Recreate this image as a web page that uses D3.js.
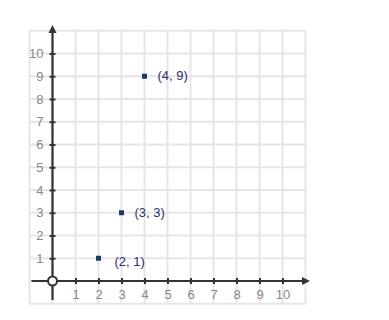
<!DOCTYPE html>
<html><head><meta charset="utf-8">
<script src="https://cdn.jsdelivr.net/npm/d3@7"></script>
<style>body{margin:0;background:#fff}svg{display:block}</style>
</head><body>
<script>
const xTicks = [1,2,3,4,5,6,7,8,9,10];
const yTicks = [1,2,3,4,5,6,7,8,9,10];
const pointsX = [2,3,4];
const pointsY = [1,3,9];
const pointLabels = ["(2, 1)","(3, 3)","(4, 9)"];

const W = 389, H = 320;
const svg = d3.select("body").append("svg").attr("width",W).attr("height",H);
const x = d3.scaleLinear().domain([0,10]).range([52.5,282.5]);
const y = d3.scaleLinear().domain([0,10]).range([281,53.5]);
const gridVals = d3.range(-1,12);
const font = "Arial, Liberation Sans, sans-serif";

const grid = svg.append("g").attr("stroke","#e8e4e8").attr("stroke-width",2);
grid.selectAll("line.v").data(gridVals).join("line").attr("class","v")
  .attr("x1",d=>x(d)).attr("x2",d=>x(d)).attr("y1",y(11)).attr("y2",y(-1));
grid.selectAll("line.h").data(gridVals).join("line").attr("class","h")
  .attr("y1",d=>y(d)).attr("y2",d=>y(d)).attr("x1",x(-1)).attr("x2",x(11));

const ax = d3.axisBottom(x).tickValues(xTicks).tickSize(6).tickFormat(d=>d);
const gx = svg.append("g").attr("transform",`translate(0,${y(0)-3})`).call(ax);
gx.select(".domain").remove();
gx.selectAll(".tick line").attr("stroke","#333").attr("stroke-width",2);
gx.selectAll(".tick text").attr("y",12).attr("fill","#888").attr("font-family",font).attr("font-size",13);

const ay = d3.axisLeft(y).tickValues(yTicks).tickSize(6).tickFormat(d=>d);
const gy = svg.append("g").attr("transform",`translate(${x(0)+3},0)`).call(ay);
gy.select(".domain").remove();
gy.selectAll(".tick line").attr("stroke","#333").attr("stroke-width",2);
gy.selectAll(".tick text").attr("x",-12).attr("fill","#888").attr("font-family",font).attr("font-size",13);

svg.append("line").attr("x1",31.5).attr("x2",303).attr("y1",y(0)).attr("y2",y(0)).attr("stroke","#333").attr("stroke-width",2.2);
svg.append("path").attr("d",`M${310},${y(0)} L${302},${y(0)-4} L${302},${y(0)+4} Z`).attr("fill","#333");
svg.append("line").attr("x1",x(0)).attr("x2",x(0)).attr("y1",300).attr("y2",33).attr("stroke","#333").attr("stroke-width",2.2);
svg.append("path").attr("d",`M${x(0)},${25} L${x(0)-4},${33} L${x(0)+4},${33} Z`).attr("fill","#333");

svg.append("circle").attr("cx",x(0)).attr("cy",y(0)).attr("r",4.5).attr("fill","#fff").attr("stroke","#333").attr("stroke-width",2);

const pts = pointsX.map((d,i)=>({x:d,y:pointsY[i],label:pointLabels[i]}));
svg.selectAll("rect.pt").data(pts).join("rect").attr("class","pt")
  .attr("x",d=>x(d.x)-2.5).attr("y",d=>y(d.y)-2.5).attr("width",5).attr("height",5).attr("fill","#1d3b5c");
svg.selectAll("text.pl").data(pts).join("text").attr("class","pl")
  .attr("x",(d,i)=>x(d.x)+(i===0?16:13)).attr("y",(d,i)=>y(d.y)+(i===0?8:4))
  .attr("fill","#2b2e6b").attr("font-family",font).attr("font-size",13)
  .text(d=>d.label);
</script>
</body></html>
